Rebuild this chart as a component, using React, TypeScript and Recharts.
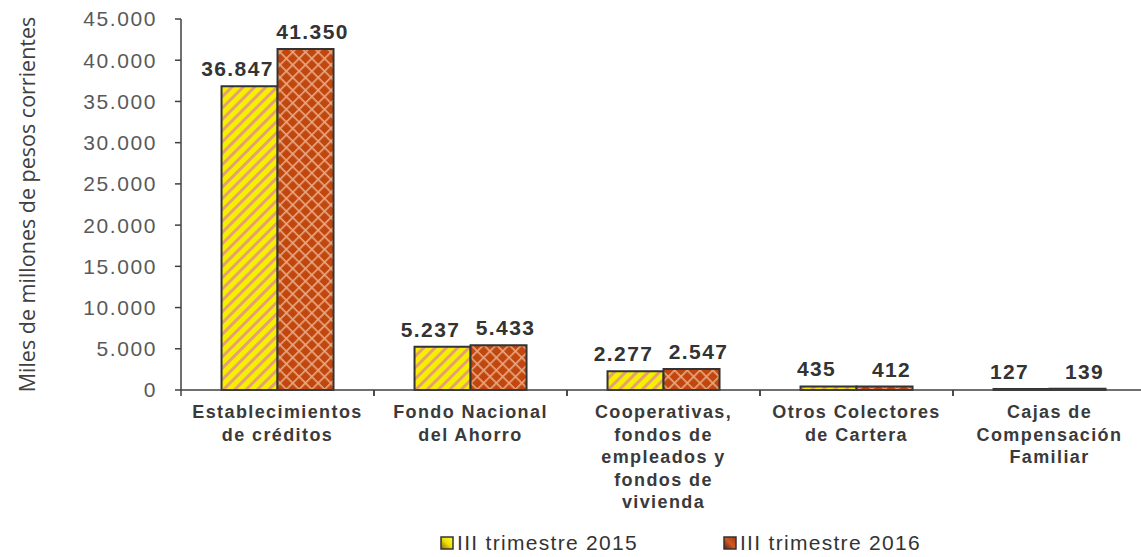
import React from "react";
import { BarChart, Bar, XAxis, YAxis, LabelList } from "recharts";

const categories = [
  "Establecimientos\nde créditos",
  "Fondo Nacional\ndel Ahorro",
  "Cooperativas,\nfondos de\nempleados y\nfondos de\nvivienda",
  "Otros Colectores\nde Cartera",
  "Cajas de\nCompensación\nFamiliar",
];
const serie2015 = [36847, 5237, 2277, 435, 127];
const serie2016 = [41350, 5433, 2547, 412, 139];
const seriesNames = ["III trimestre 2015", "III trimestre 2016"];
const yTicks = [0, 5000, 10000, 15000, 20000, 25000, 30000, 35000, 40000, 45000];

const data = categories.map((c, i) => ({ name: c, a: serie2015[i], b: serie2016[i] }));

const fmt = (v: number) => v.toLocaleString("de-DE");

const W = 1150;
const H = 557;
const LEFT = 181;
const RIGHT_M = 4;
const BAND = (W - LEFT - RIGHT_M) / categories.length;
const ARIAL = "'Liberation Sans', Arial, sans-serif";

const XTick = (props: any) => {
  const { x, y, payload } = props;
  const lines: string[] = String(payload.value).split("\n");
  return (
    <g>
      <line x1={x - BAND / 2} x2={x - BAND / 2} y1={y - 8} y2={y - 2} stroke="#404040" strokeWidth={1.5} />
      <line x1={x + BAND / 2} x2={x + BAND / 2} y1={y - 8} y2={y - 2} stroke="#404040" strokeWidth={1.5} />
      <text x={x} y={y} textAnchor="middle" fill="#3a3a3a" fontFamily={ARIAL} fontWeight="bold" fontSize={18} letterSpacing={1.4}>
        {lines.map((l, i) => (
          <tspan key={i} x={x} y={y + 20 + i * 22.5}>{l}</tspan>
        ))}
      </text>
    </g>
  );
};

const labelStyle = { fill: "#333", fontWeight: "bold", fontSize: 21, fontFamily: ARIAL, letterSpacing: 1.4 } as any;

const makeLabel = (dx: number) => (props: any) => {
  const { x, y, width, value } = props;
  return (
    <text x={Number(x) + Number(width) / 2 + dx} y={Number(y) - 10} textAnchor="middle" style={labelStyle}>
      {fmt(Number(value))}
    </text>
  );
};

export default function App() {
  return (
    <div style={{ position: "absolute", left: 0, top: 0, width: 1141, height: H, background: "#fff", overflow: "hidden" }}>
      <svg width={0} height={0} style={{ position: "absolute" }}>
        <defs>
          <pattern id="p15" patternUnits="userSpaceOnUse" width={8} height={8} patternTransform="rotate(45)">
            <rect width={8} height={8} fill="#f6f000" />
            <rect x={0} y={0} width={3} height={8} fill="#e4a070" />
          </pattern>
          <pattern id="p16" patternUnits="userSpaceOnUse" width={9} height={9} patternTransform="rotate(45)">
            <rect width={9} height={9} fill="#c2470e" />
            <rect x={0} y={0} width={1.6} height={9} fill="#e8a882" />
            <rect x={0} y={0} width={9} height={1.6} fill="#e8a882" />
          </pattern>
          <linearGradient id="lg15" x1="0" y1="1" x2="1" y2="0">
            <stop offset="0" stopColor="#8a6a10" />
            <stop offset="0.5" stopColor="#f0e000" />
            <stop offset="1" stopColor="#ffff40" />
          </linearGradient>
          <linearGradient id="lg16" x1="0" y1="1" x2="1" y2="0">
            <stop offset="0" stopColor="#5a2008" />
            <stop offset="0.5" stopColor="#d05a20" />
            <stop offset="1" stopColor="#a03a10" />
          </linearGradient>
        </defs>
      </svg>
      <BarChart
        width={W}
        height={H}
        data={data}
        margin={{ top: 19, right: RIGHT_M, left: 0, bottom: 47 }}
        barCategoryGap="21%"
        barGap={0}
      >
        <XAxis
          dataKey="name"
          interval={0}
          height={120}
          tickLine={false}
          tick={<XTick />}
          axisLine={{ stroke: "#404040", strokeWidth: 1.5 }}
        />
        <YAxis
          width={LEFT}
          domain={[0, 45000]}
          ticks={yTicks}
          tickFormatter={fmt}
          tickSize={6}
          tickMargin={18}
          axisLine={{ stroke: "#404040", strokeWidth: 1.5 }}
          tickLine={{ stroke: "#404040", strokeWidth: 1.5 }}
          tick={{ fill: "#595959", fontSize: 21, fontFamily: ARIAL, letterSpacing: 1.6 }}
          label={{
            value: "Miles de millones de pesos corrientes",
            angle: -90,
            position: "insideLeft",
            offset: 27,
            style: { textAnchor: "middle", fill: "#404040", fontSize: 21.5, fontFamily: "'Open Sans', sans-serif" },
          }}
        />
        <Bar dataKey="a" name={seriesNames[0]} fill="url(#p15)" stroke="#333" strokeWidth={2} isAnimationActive={false}>
          <LabelList dataKey="a" content={makeLabel(-12)} />
        </Bar>
        <Bar dataKey="b" name={seriesNames[1]} fill="url(#p16)" stroke="#333" strokeWidth={2} isAnimationActive={false}>
          <LabelList dataKey="b" content={makeLabel(7)} />
        </Bar>
      </BarChart>
      <div style={{ position: "absolute", top: 531, left: 440, display: "flex", fontFamily: ARIAL, fontSize: 21, letterSpacing: 1.3, color: "#333", lineHeight: "24px" }}>
        {seriesNames.map((n, i) => (
          <div key={n} style={{ display: "flex", alignItems: "center", marginLeft: i === 0 ? 0 : 85 }}>
            <svg width={14} height={14} style={{ marginRight: 3 }}>
              <rect x={1} y={1} width={12} height={12} fill={i === 0 ? "url(#lg15)" : "url(#lg16)"} stroke="#333" strokeWidth={1.5} />
            </svg>
            <span>{n}</span>
          </div>
        ))}
      </div>
    </div>
  );
}
